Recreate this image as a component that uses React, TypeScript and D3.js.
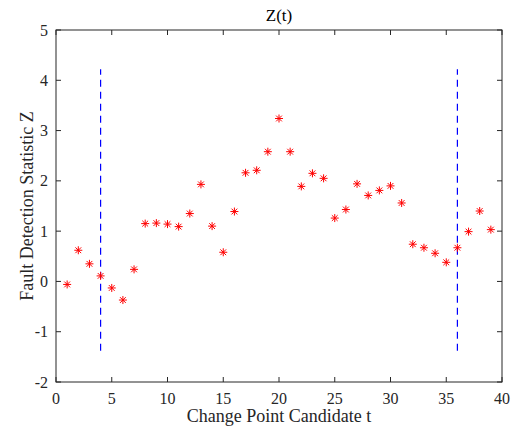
import React from 'react';
import * as d3 from 'd3';

// values
const tValues = d3.range(1, 40);
const zValues = [
  -0.06, 0.62, 0.35, 0.11, -0.13, -0.37, 0.24, 1.15, 1.16, 1.14,
  1.09, 1.35, 1.93, 1.1, 0.58, 1.39, 2.16, 2.21, 2.58, 3.24,
  2.58, 1.89, 2.15, 2.05, 1.26, 1.43, 1.94, 1.71, 1.81, 1.9,
  1.56, 0.74, 0.67, 0.56, 0.38, 0.67, 0.99, 1.4, 1.03,
];
const changePoints = [4, 36];
const changeLineRange = [-1.38, 4.22];
const xTicks = [0, 5, 10, 15, 20, 25, 30, 35, 40];
const yTicks = [-2, -1, 0, 1, 2, 3, 4, 5];

const W = 516;
const H = 432;
const margin = { left: 56, right: 14, top: 30, bottom: 50 };
const font = 'Liberation Serif';
const axisColor = '#262626';

const App = () => {
  const x = d3.scaleLinear().domain([0, 40]).range([margin.left, W - margin.right]);
  const y = d3.scaleLinear().domain([-2, 5]).range([H - margin.bottom, margin.top]);
  const [x0, x1] = x.range();
  const [y0, y1] = y.range();
  const tick = 5;
  const r = 4;

  return (
    <svg width={W} height={H} style={{ position: 'absolute', left: 0, top: 0, background: '#fff' }}>
      <rect x={x0} y={y1} width={x1 - x0} height={y0 - y1} fill="#fff" />

      {changePoints.map(cp => (
        <line key={cp} x1={x(cp)} x2={x(cp)} y1={y(changeLineRange[0])} y2={y(changeLineRange[1])}
          stroke="#0000ff" strokeWidth={1.2} strokeDasharray="7,5" />
      ))}

      {tValues.map((t, i) => {
        const cx = x(t);
        const cy = y(zValues[i]);
        const d = r * 0.72;
        return (
          <g key={t} stroke="#ff0000" strokeWidth={1}>
            <line x1={cx - r} x2={cx + r} y1={cy} y2={cy} />
            <line x1={cx} x2={cx} y1={cy - r} y2={cy + r} />
            <line x1={cx - d} x2={cx + d} y1={cy - d} y2={cy + d} />
            <line x1={cx - d} x2={cx + d} y1={cy + d} y2={cy - d} />
          </g>
        );
      })}

      <g stroke={axisColor} strokeWidth={1}>
        {xTicks.map(t => (
          <g key={t}>
            <line x1={x(t)} x2={x(t)} y1={y0} y2={y0 - tick} />
            <line x1={x(t)} x2={x(t)} y1={y1} y2={y1 + tick} />
          </g>
        ))}
        {yTicks.map(t => (
          <g key={t}>
            <line x1={x0} x2={x0 + tick} y1={y(t)} y2={y(t)} />
            <line x1={x1} x2={x1 - tick} y1={y(t)} y2={y(t)} />
          </g>
        ))}
        <rect x={x0} y={y1} width={x1 - x0} height={y0 - y1} fill="none" />
      </g>

      {xTicks.map(t => (
        <text key={t} x={x(t)} y={y0 + 22} textAnchor="middle" fontFamily={font} fontSize={16} fill={axisColor}>{t}</text>
      ))}
      {yTicks.map(t => (
        <text key={t} x={x0 - 8} y={y(t) + 5.5} textAnchor="end" fontFamily={font} fontSize={16} fill={axisColor}>{t}</text>
      ))}

      <text x={(x0 + x1) / 2} y={y0 + 40} textAnchor="middle" fontFamily={font} fontSize={18} fill={axisColor}>
        Change Point Candidate t
      </text>
      <text transform={`translate(${33},${(y0 + y1) / 2}) rotate(-90)`} textAnchor="middle"
        fontFamily={font} fontSize={18} fill={axisColor}>
        Fault Detection Statistic Z
      </text>
      <text x={(x0 + x1) / 2} y={y1 - 9} textAnchor="middle" fontFamily={font} fontSize={17} fill="#000">
        Z(t)
      </text>
    </svg>
  );
};

export default App;
